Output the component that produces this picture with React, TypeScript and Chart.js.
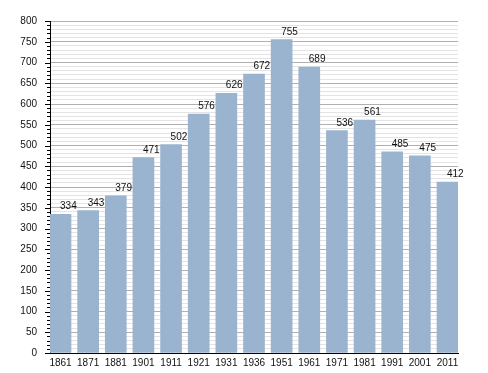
import React, { useEffect, useRef } from "react";
import { Chart, registerables } from "chart.js";

Chart.register(...registerables);

const years = ["1861", "1871", "1881", "1901", "1911", "1921", "1931", "1936", "1951", "1961", "1971", "1981", "1991", "2001", "2011"];
const population = [334, 343, 379, 471, 502, 576, 626, 672, 755, 689, 536, 561, 485, 475, 412];
const yMax = 800;
const yStep = 10;
const yMajor = 50;

const FONT = "'Liberation Sans', Arial, sans-serif";

const extras = {
  id: "extras",
  afterDatasetsDraw(chart: any) {
    const ctx = chart.ctx;
    const meta = chart.getDatasetMeta(0);
    ctx.save();
    ctx.font = `10px ${FONT}`;
    ctx.fillStyle = "#111";
    ctx.textAlign = "left";
    ctx.textBaseline = "alphabetic";
    meta.data.forEach((el: any, i: number) => {
      ctx.fillText(String(population[i]), el.x - 0.5, el.y - 5);
    });
    ctx.restore();
  },
  afterDraw(chart: any) {
    const ctx = chart.ctx;
    const y = chart.scales.y;
    const left = chart.chartArea.left;
    ctx.save();
    ctx.strokeStyle = "#000";
    ctx.lineWidth = 1;
    y.ticks.forEach((t: any) => {
      const py = Math.round(y.getPixelForValue(t.value)) + 0.5;
      const len = t.value % yMajor === 0 ? 5 : 3;
      ctx.beginPath();
      ctx.moveTo(left - len, py);
      ctx.lineTo(left, py);
      ctx.stroke();
    });
    ctx.restore();
  },
};

export default function App() {
  const ref = useRef<HTMLCanvasElement>(null);
  useEffect(() => {
    const chart = new Chart(ref.current!, {
      type: "bar",
      data: {
        datasets: [
          {
            data: population.map((v, i) => ({ x: i, y: v })),
            backgroundColor: "#9ab3ce",
            borderWidth: 0,
            barThickness: 21,
          },
        ],
      },
      options: {
        animation: false,
        responsive: false,
        maintainAspectRatio: false,
        layout: { padding: { left: 0, right: 30, top: 21, bottom: 0 } },
        plugins: { legend: { display: false }, tooltip: { enabled: false } },
        scales: {
          x: {
            type: "linear",
            min: -0.38,
            max: 14.38,
            offset: false,
            grid: { display: false, drawTicks: false },
            border: { display: true, color: "#000", width: 1 },
            ticks: {
              stepSize: 1,
              includeBounds: false,
              autoSkip: false,
              maxRotation: 0,
              padding: 4,
              color: "#111",
              font: { family: FONT, size: 10 },
              callback: (v: any) => (Number.isInteger(v) && years[v] ? years[v] : ""),
            },
            afterFit: (s: any) => {
              s.height = 20;
            },
          },
          y: {
            min: 0,
            max: yMax,
            grid: {
              drawTicks: false,
              color: (c: any) => (c.tick && c.tick.value % yMajor === 0 ? "#b0b0b0" : "#e4e4e4"),
              lineWidth: 1,
            },
            border: { display: true, color: "#000", width: 1 },
            ticks: {
              stepSize: yStep,
              autoSkip: false,
              padding: 13,
              color: "#111",
              font: { family: FONT, size: 10 },
              callback: (v: any) => (v % yMajor === 0 ? String(v) : ""),
            },
            afterFit: (s: any) => {
              s.width = 50;
            },
          },
        },
      },
      plugins: [extras],
    });
    return () => chart.destroy();
  }, []);
  return (
    <div style={{ position: "absolute", left: 0, top: 0, width: 488, height: 373, background: "#fff" }}>
      <canvas ref={ref} width={488} height={373} style={{ width: 488, height: 373 }} />
    </div>
  );
}
